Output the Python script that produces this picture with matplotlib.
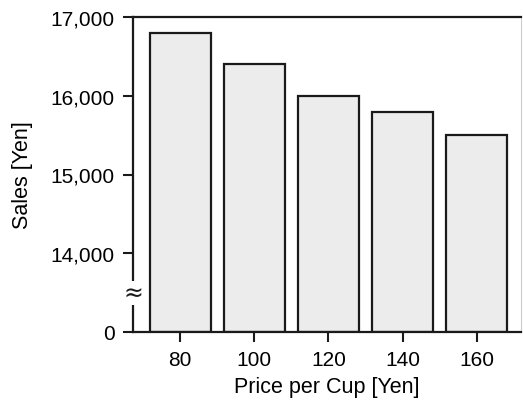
import numpy as np
import matplotlib
matplotlib.use("Agg")
import matplotlib.pyplot as plt
from matplotlib.transforms import blended_transform_factory

# Data
price = [80, 100, 120, 140, 160]
sales = [16800, 16400, 16000, 15800, 15500]
ytick_vals = [0, 14000, 15000, 16000, 17000]
ytick_labels = ["0", "14,000", "15,000", "16,000", "17,000"]

plt.rcParams['font.family'] = ['Liberation Sans', 'DejaVu Sans']

# broken axis: 0..14000 squeezed into the same height as 1000
def fwd(v):
    v = np.asarray(v, dtype=float)
    return np.where(v < 14000, 13000 + v / 14.0, v)

def inv(p):
    p = np.asarray(p, dtype=float)
    return np.where(p < 14000, (p - 13000) * 14.0, p)

fig = plt.figure(figsize=(5.23, 4.06), dpi=100)
ax = fig.add_axes([133 / 523, 73 / 406, 388 / 523, 315 / 406])
ax.set_yscale('function', functions=(fwd, inv))

ax.bar(price, sales, width=16.5, color='#ececec', edgecolor='#1a1a1a', linewidth=1.6)

ax.set_xlim(67.3, 171.9)
ax.set_ylim(0, 17000)
ax.set_xticks(price)
ax.set_yticks(ytick_vals)
ax.set_yticklabels(ytick_labels)
ax.minorticks_off()

ax.tick_params(axis='both', labelsize=15, width=1.5, length=7, color='#1a1a1a', pad=6)
for side in ['left', 'bottom', 'top']:
    ax.spines[side].set_linewidth(1.6)
    ax.spines[side].set_color('#1a1a1a')
ax.spines['right'].set_color('#cccccc')
ax.spines['right'].set_linewidth(0.8)

ax.set_ylabel("Sales [Yen]", fontsize=15.5, labelpad=13)
ax.set_xlabel("Price per Cup [Yen]", fontsize=15.5, labelpad=5)

# break mark on the y axis
tr = blended_transform_factory(ax.transAxes, ax.transData)
ax.text(0, inv(13500), "\u2248", transform=tr, ha='center', va='center',
        fontsize=17, family='DejaVu Sans', color='#1a1a1a',
        bbox=dict(facecolor='white', edgecolor='none', pad=0.0), clip_on=False, zorder=5)

fig.savefig("out.png", dpi=100)
